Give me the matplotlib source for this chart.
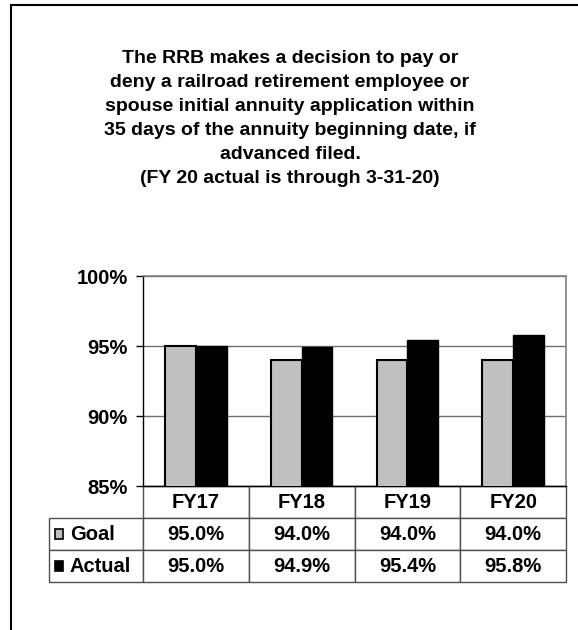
import matplotlib.pyplot as plt
import numpy as np
from matplotlib.patches import Rectangle
from matplotlib.lines import Line2D

plt.rcParams['font.family'] = ['Liberation Sans', 'DejaVu Sans']
plt.rcParams['font.weight'] = 'bold'

years = ['FY17', 'FY18', 'FY19', 'FY20']
goal = [95.0, 94.0, 94.0, 94.0]
actual = [95.0, 94.9, 95.4, 95.8]
series = ['Goal', 'Actual']
yticks = [85, 90, 95, 100]
title = ("The RRB makes a decision to pay or\n"
         "deny a railroad retirement employee or\n"
         "spouse initial annuity application within\n"
         "35 days of the annuity beginning date, if\n"
         "advanced filed.\n"
         "(FY 20 actual is through 3-31-20)")

W, H = 578, 630
fig = plt.figure(figsize=(W / 100, H / 100), dpi=100)

# page frame (top and left edges only)
fig.add_artist(Line2D([11 / W, 11 / W], [0, 1 - 5 / H], transform=fig.transFigure, color='black', lw=1.5))
fig.add_artist(Line2D([11 / W, 1], [1 - 5 / H, 1 - 5 / H], transform=fig.transFigure, color='black', lw=1.5))

fig.text(290 / W, 1 - 50 / H, title, ha='center', va='top', fontsize=14,
         fontweight='bold', linespacing=1.54)

ax = fig.add_axes([143 / W, 1 - 486 / H, 423 / W, 210 / H])
x = np.arange(len(years))
bw = 0.29
ax.bar(x - bw / 2, goal, bw, color='#c0c0c0', edgecolor='black', linewidth=1.5, zorder=3)
ax.bar(x + bw / 2, actual, bw, color='black', edgecolor='black', linewidth=1, zorder=3)
ax.set_xlim(-0.5, len(years) - 0.5)
ax.set_ylim(85, 100)
ax.set_yticks(yticks)
ax.set_yticklabels([f'{v}%' for v in yticks], fontsize=14.5, fontweight='bold')
ax.tick_params(axis='y', length=5, width=1, pad=6)
ax.set_xticks([])
ax.yaxis.grid(True, color='#707070', lw=1, zorder=0)
ax.set_axisbelow(True)
for s in ['top', 'right']:
    ax.spines[s].set_color('#808080')
    ax.spines[s].set_linewidth(1.2)
for s in ['left', 'bottom']:
    ax.spines[s].set_color('black')
    ax.spines[s].set_linewidth(1)

# data table below the plot
cells = [[''] + years,
         [series[0]] + [f'{v:.1f}%' for v in goal],
         [series[1]] + [f'{v:.1f}%' for v in actual]]
tab = ax.table(cellText=cells, cellLoc='center', colWidths=[94] + [105.75] * len(years),
               bbox=[-94 / 423, -96 / 210, 517 / 423, 96 / 210])
tab.auto_set_font_size(False)
tab.set_fontsize(14.5)
for (r, c), cell in tab.get_celld().items():
    cell.set_edgecolor('#505050')
    cell.set_linewidth(1)
    cell.get_text().set_fontweight('bold')
    if r == 0 and c == 0:
        cell.visible_edges = ''
    if c == 0 and r > 0:
        cell.get_text().set_horizontalalignment('left')
        cell.PAD = 0.22

# legend swatches in the row labels
fig.add_artist(Rectangle((55 / W, 1 - 539 / H), 8 / W, 10 / H, transform=fig.transFigure,
                         facecolor='#c0c0c0', edgecolor='black', lw=1.2))
fig.add_artist(Rectangle((55 / W, 1 - 571 / H), 8 / W, 10 / H, transform=fig.transFigure,
                         facecolor='black', edgecolor='black', lw=1.2))

fig.savefig('out.png', dpi=100)
